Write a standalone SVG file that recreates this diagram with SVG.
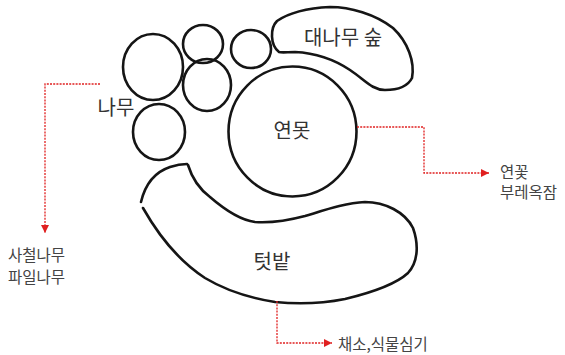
<svg xmlns="http://www.w3.org/2000/svg" width="565" height="355" viewBox="0 0 565 355">
<style>
.sh{fill:none;stroke:#151515;stroke-width:2.6;stroke-linecap:round;stroke-linejoin:round}
.t{font-family:"Noto Sans CJK KR","Noto Sans",sans-serif;fill:#333;text-anchor:middle}
.big{font-size:20px}
.lab{font-size:15.5px;text-anchor:start;fill:#444}
.con{fill:none;stroke:#e02020;stroke-width:1.3;stroke-dasharray:2,1.2}
</style>
<defs>
<marker id="ah" viewBox="0 0 10 10" refX="10" refY="5" markerWidth="8" markerHeight="8" orient="auto" markerUnits="userSpaceOnUse">
<path d="M0,0 L10,5 L0,10 Z" fill="#e02020"/>
</marker>
</defs>
<rect width="565" height="355" fill="#fff"/>
<g id="trees">
<ellipse class="sh" cx="153" cy="67" rx="30" ry="33"/>
<ellipse class="sh" cx="203" cy="44" rx="20" ry="19"/>
<ellipse class="sh" cx="207" cy="85" rx="24" ry="26"/>
<ellipse class="sh" cx="251" cy="49" rx="20" ry="19"/>
<ellipse class="sh" cx="159" cy="132" rx="26" ry="28"/>
<text class="t big" x="116" y="115">나무</text>
</g>
<g id="bamboo">
<path class="sh" d="M279,52 C270,45 270,28 277,21 C290,12 310,8 330,7 C350,7 375,14 393,28 C408,42 415,62 412,78 C408,86 398,90 385,90 C372,90 365,80 350,70 C335,60 315,53 295,52 C288,52 282,53 279,52 Z"/>
<text class="t big" x="343" y="45">대나무 숲</text>
</g>
<g id="pond">
<ellipse class="sh" cx="292.5" cy="131.5" rx="64" ry="65"/>
<text class="t big" x="292" y="138">연못</text>
</g>
<g id="field">
<path class="sh" d="M141,202 C145,185 155,172 170,167 C176,165 182,164 187,164"/>
<path class="sh" d="M188,165 C192,178 198,188 210,197 C225,210 240,220 255,222 C270,223 290,220 305,216 C325,210 345,203 365,202 C385,202 405,212 413,228 C419,245 418,262 408,273 C395,285 370,293 345,299 C320,304 295,304 275,302 C250,298 225,290 205,278 C182,263 160,238 143,208"/>
<text class="t big" x="272" y="269">텃밭</text>
</g>
<g id="connectors">
<path class="con" d="M100,84 H45 V233" marker-end="url(#ah)"/>
<path class="con" d="M357,127 H424 V173 H489" marker-end="url(#ah)"/>
<path class="con" d="M277,301 V343 H332" marker-end="url(#ah)"/>
</g>
<g id="labels">
<text class="t lab" x="8" y="261">사철나무</text>
<text class="t lab" x="8" y="283">파일나무</text>
<text class="t lab" x="500" y="178">연꽃</text>
<text class="t lab" x="500" y="198">부레옥잠</text>
<text class="t lab" x="338" y="350">채소,식물심기</text>
</g>
</svg>
